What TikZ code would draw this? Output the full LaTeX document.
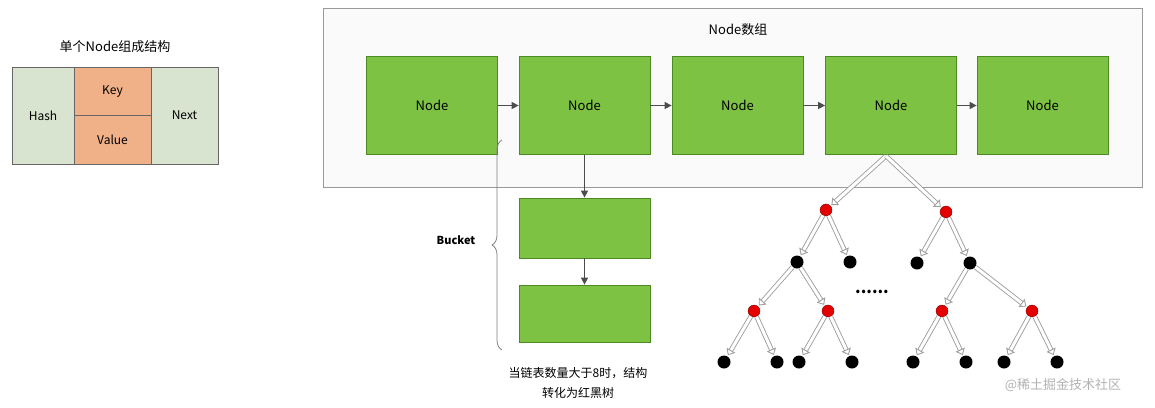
\documentclass[tikz,border=0pt]{standalone}
\usepackage{fontspec}
\setmainfont{Noto Sans CJK SC}
\usetikzlibrary{arrows.meta,decorations.pathreplacing}
\definecolor{ng}{HTML}{7DC242}
\definecolor{ngd}{HTML}{4E8A22}
\definecolor{lg}{HTML}{D8E4D0}
\definecolor{lo}{HTML}{F0B088}
\tikzset{
  nodebox/.style={draw=ngd,fill=ng,line width=0.8pt,font=\fontsize{13}{14}\selectfont},
  cell/.style={draw=gray!80!black,line width=0.8pt,font=\fontsize{12}{13}\selectfont},
  link/.style={draw=black!70,line width=1.3pt,-{Triangle[length=7pt,width=7pt]}},
  tarr/.style={draw=gray!75,double=white,double distance=3pt,line width=0.9pt,-{Triangle[open,length=6pt,width=10pt]},shorten >=1pt},
  rn/.style={circle,fill=red!90!black,draw=red!50!black,minimum size=12pt,inner sep=0pt},
  bn/.style={circle,fill=black,minimum size=13pt,inner sep=0pt}
}
\begin{document}
\begin{tikzpicture}[x=1pt,y=-1pt]
\useasboundingbox (0,0) rectangle (1155,407);
% left structure
\node[font=\fontsize{13}{14}\selectfont] (t0) at (115,47) {单个Node组成结构};
\node[cell,fill=lg,minimum width=62pt,minimum height=97pt] (hash) at (43,115.5) {Hash};
\node[cell,fill=lo,minimum width=77pt,minimum height=48.5pt] (key) at (112.5,91.25) {Key};
\node[cell,fill=lo,minimum width=77pt,minimum height=48.5pt] (val) at (112.5,139.75) {Value};
\node[cell,fill=lg,minimum width=67pt,minimum height=97pt] (next) at (184.5,115.5) {Next};
% main box
\node[draw=gray!80,fill=gray!4,line width=0.8pt,minimum width=819pt,minimum height=179pt] (arr) at (732.5,97.5) {};
\node[font=\fontsize{13}{14}\selectfont] (title) at (738,30) {Node数组};
\foreach \i/\x in {1/432,2/584.5,3/737.5,4/891,5/1042.5}
  \node[nodebox,minimum width=131pt,minimum height=98pt] (n\i) at (\x,105.5) {Node};
\draw[link] (n1) -- (n2);
\draw[link] (n2) -- (n3);
\draw[link] (n3) -- (n4);
\draw[link] (n4) -- (n5);
% bucket
\node[nodebox,minimum width=131pt,minimum height=60pt] (b1) at (584.5,228) {};
\node[nodebox,minimum width=131pt,minimum height=57pt] (b2) at (584.5,313.5) {};
\draw[link] (n2) -- (b1);
\draw[link] (b1) -- (b2);
\coordinate (brt) at (502,140);
\coordinate (brb) at (502,350);
\draw[gray,line width=0.8pt,decorate,decoration={brace,amplitude=10pt}] (brb) -- (brt);
\node[font=\bfseries\fontsize{11}{12}\selectfont] (bucket) at (456,240) {Bucket};
\node[font=\fontsize{12}{20}\selectfont,align=center] (note) at (578,383) {当链表数量大于8时，结构\\转化为红黑树};
% tree
\coordinate (root) at (886,156);
\node[rn] (r1) at (826,210) {};
\node[rn] (r2) at (946,212) {};
\node[bn] (a1) at (797,262) {};
\node[bn] (a2) at (850,262) {};
\node[bn] (a3) at (917,263) {};
\node[bn] (a4) at (970,263) {};
\node[rn] (c1) at (754,311) {};
\node[rn] (c2) at (828,311) {};
\node[rn] (c3) at (942,311) {};
\node[rn] (c4) at (1032,311) {};
\foreach \i/\x in {1/724,2/777,3/799,4/852,5/913,6/966,7/1004,8/1057}
  \node[bn] (l\i) at (\x,362) {};
\draw[tarr] (root) -- (r1);
\draw[tarr] (root) -- (r2);
\draw[tarr] (r1) -- (a1); \draw[tarr] (r1) -- (a2);
\draw[tarr] (r2) -- (a3); \draw[tarr] (r2) -- (a4);
\draw[tarr] (a1) -- (c1); \draw[tarr] (a1) -- (c2);
\draw[tarr] (a4) -- (c3); \draw[tarr] (a4) -- (c4);
\draw[tarr] (c1) -- (l1); \draw[tarr] (c1) -- (l2);
\draw[tarr] (c2) -- (l3); \draw[tarr] (c2) -- (l4);
\draw[tarr] (c3) -- (l5); \draw[tarr] (c3) -- (l6);
\draw[tarr] (c4) -- (l7); \draw[tarr] (c4) -- (l8);
\node[font=\bfseries\fontsize{16}{16}\selectfont] (dots) at (872,292) {......};
\node[text=gray!60,font=\fontsize{13}{14}\selectfont] (wm) at (1063,385) {@稀土掘金技术社区};
\end{tikzpicture}
\end{document}
